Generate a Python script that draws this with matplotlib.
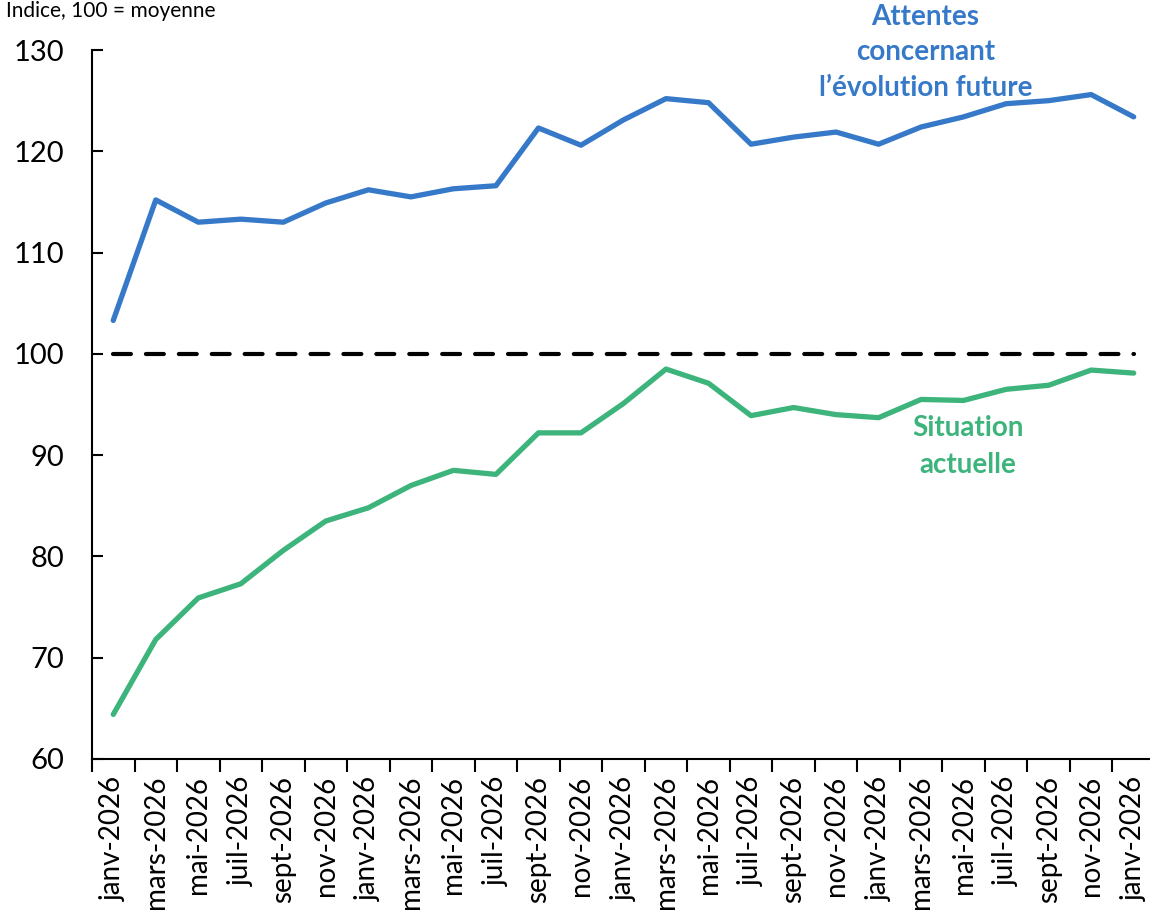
import matplotlib
matplotlib.use("Agg")
import matplotlib.pyplot as plt
import numpy as np

months = ["janv-2026", "mars-2026", "mai-2026", "juil-2026", "sept-2026", "nov-2026"] * 4 + ["janv-2026"]
attentes = [103.3, 115.2, 113.0, 113.3, 113.0, 114.9, 116.2, 115.5, 116.3, 116.6, 122.3, 120.6,
            123.1, 125.2, 124.8, 120.7, 121.4, 121.9, 120.7, 122.4, 123.4, 124.7, 125.0, 125.6, 123.4]
situation = [64.4, 71.8, 75.9, 77.3, 80.6, 83.5, 84.8, 87.0, 88.5, 88.1, 92.2, 92.2,
             95.1, 98.5, 97.1, 93.9, 94.7, 94.0, 93.7, 95.5, 95.4, 96.5, 96.9, 98.4, 98.1]
reference = 100
yticks = [60, 70, 80, 90, 100, 110, 120, 130]

plt.rcParams['font.family'] = ['Lato', 'DejaVu Sans']
BLUE = "#3679C8"
GREEN = "#3DB47B"

fig = plt.figure(figsize=(11.5, 9.16), dpi=100)
ax = fig.add_axes([0.08, 0.1714, 0.9243, 0.774])
x = np.arange(len(months))
ax.plot(x, attentes, color=BLUE, lw=3.8, solid_capstyle='round', solid_joinstyle='round')
ax.plot(x, situation, color=GREEN, lw=3.8, solid_capstyle='round', solid_joinstyle='round')
ax.plot([x[0], x[-1]], [reference, reference], color='black', lw=3, linestyle=(0, (4.3, 3.6)),
        dash_capstyle='round')

ax.set_xlim(-0.5, len(months) - 0.5)
ax.set_ylim(60, 130)
ax.set_yticks(yticks)
ax.set_xticks(x)
ax.set_xticklabels(months, rotation=90)
ax.set_xticks(np.arange(-0.5, len(months), 1), minor=True)
ax.tick_params(axis='x', which='major', length=0, labelsize=20, pad=12)
ax.tick_params(axis='x', which='minor', length=9, width=1.5, direction='out')
ax.tick_params(axis='y', length=8, width=1.5, direction='in', labelsize=21, pad=20)
for s in ['top', 'right']:
    ax.spines[s].set_visible(False)
for s in ['left', 'bottom']:
    ax.spines[s].set_linewidth(1.5)

ax.text(19.1, 125.0, "Attentes\nconcernant\nl\u2019évolution future", color=BLUE, fontsize=20,
        fontweight='bold', ha='center', va='bottom', linespacing=1.45)
ax.text(20.1, 87.7, "Situation\nactuelle", color=GREEN, fontsize=20,
        fontweight='bold', ha='center', va='bottom', linespacing=1.55)

fig.text(0.005, 0.999, "Indice, 100 = moyenne", fontsize=15, ha='left', va='top')

fig.savefig("out.png", dpi=100)
